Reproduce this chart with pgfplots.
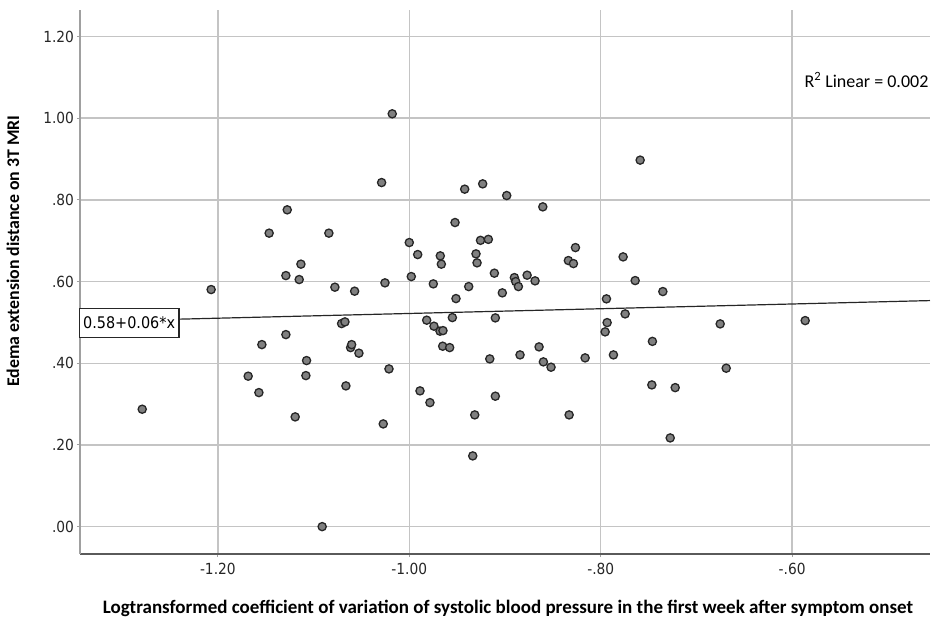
\documentclass[border=0pt]{standalone}
\usepackage{fontspec}
\setmainfont{DejaVu Sans}
\newfontfamily\tickfont[FakeStretch=0.9]{DejaVu Sans}
\newfontfamily\calfont{Carlito}
\usepackage{pgfplots}
\pgfplotsset{compat=1.18}
\definecolor{gridc}{RGB}{196,196,196}
\definecolor{ptfill}{RGB}{128,128,128}
\definecolor{yaxc}{RGB}{160,160,160}
\definecolor{xaxc}{RGB}{90,90,90}
\begin{document}
\begin{tikzpicture}
\useasboundingbox (0,0) rectangle (935pt,622pt);
\begin{axis}[
  at={(80pt,68pt)}, anchor=south west,
  width=850pt, height=544pt, scale only axis,
  xmin=-1.344, xmax=-0.456, ymin=-0.067, ymax=1.265,
  axis lines*=left,
  x axis line style={draw=xaxc, line width=1.5pt},
  y axis line style={draw=yaxc, line width=1.5pt},
  xtick={-1.2,-1.0,-0.8,-0.6},
  xticklabels={-1.20,-1.00,-.80,-.60},
  ytick={0,0.2,0.4,0.6,0.8,1.0,1.2},
  yticklabels={.00,.20,.40,.60,.80,1.00,1.20},
  tick align=outside, major tick length=3pt,
  tick style={draw=yaxc, line width=1pt},
  grid=major,
  major grid style={draw=gridc, line width=1.5pt},
  ticklabel style={font=\tickfont\fontsize{15.3}{17}\selectfont, text=black!85},
  xticklabel style={yshift=-2.5pt},
  yticklabel style={xshift=0.5pt},
  clip=false,
]
\addplot[only marks, mark=*, mark size=4.1pt,
  mark options={fill=ptfill, draw=black!85, line width=1.3pt}] coordinates {
(-1.279,0.2875) (-1.207,0.5805) (-1.1683,0.3684) (-1.1571,0.3282) (-1.154,0.4457)
(-1.1464,0.7186) (-1.1275,0.7757) (-1.1289,0.6147) (-1.1289,0.4702) (-1.1192,0.2687)
(-1.115,0.605) (-1.1132,0.6427) (-1.1073,0.4066) (-1.108,0.3698) (-1.091,0.000)
(-1.084,0.7186) (-1.0777,0.5863) (-1.0707,0.4972) (-1.0672,0.5013) (-1.0662,0.3446)
(-1.0613,0.4384) (-1.0602,0.4457) (-1.0571,0.5765) (-1.0526,0.4247) (-1.0289,0.8425)
(-1.0272,0.2515) (-1.0254,0.5969) (-1.0212,0.3862) (-1.0178,1.0108) (-1.000,0.6956)
(-0.9979,0.6123) (-0.9912,0.6662) (-0.9888,0.3324) (-0.9818,0.5055) (-0.9784,0.3037)
(-0.9749,0.5944) (-0.9742,0.4908) (-0.9679,0.4786) (-0.9648,0.4800) (-0.9676,0.6630)
(-0.9665,0.6427) (-0.9651,0.4418) (-0.9578,0.4384) (-0.9550,0.5119) (-0.9522,0.7446)
(-0.9512,0.5584) (-0.9421,0.8263) (-0.9379,0.5878) (-0.9337,0.1732) (-0.9316,0.2736)
(-0.9303,0.6679) (-0.9292,0.6459) (-0.9256,0.7010) (-0.9233,0.8393) (-0.9174,0.7034)
(-0.9159,0.4107) (-0.9111,0.6206) (-0.9101,0.5111) (-0.9101,0.3194) (-0.9028,0.5724)
(-0.8982,0.8107) (-0.8902,0.6098) (-0.8888,0.6000) (-0.8860,0.5878) (-0.8843,0.4205)
(-0.8769,0.6157) (-0.8686,0.6018) (-0.8644,0.4401) (-0.8605,0.7830) (-0.8599,0.4034)
(-0.8519,0.3904) (-0.8338,0.6515) (-0.8285,0.6441) (-0.8264,0.6833) (-0.8330,0.2736)
(-0.8163,0.4132) (-0.7954,0.4769) (-0.7940,0.5577) (-0.7933,0.4996) (-0.7867,0.4205)
(-0.7766,0.6605) (-0.7745,0.5209) (-0.7640,0.6025) (-0.7588,0.8974) (-0.7466,0.3470)
(-0.7460,0.4536) (-0.7351,0.5756) (-0.7274,0.2172) (-0.7222,0.3404) (-0.6752,0.4964)
(-0.6689,0.3879) (-0.5864,0.5045)
};
\addplot[draw=black!85, line width=1.2pt] coordinates {(-1.344,0.502) (-0.456,0.5535)};
\node[draw=black!85, line width=1.2pt, fill=white, inner xsep=4pt, minimum height=29pt,
  font=\tickfont\fontsize{16}{18}\selectfont] at (axis cs:-1.2927,0.4989) {0.58+0.06*x};
\end{axis}
\node[anchor=west, font=\calfont\fontsize{18}{20}\selectfont] at (801pt,542pt) {R\textsuperscript{2} Linear = 0.002};
\node[font=\calfont\bfseries\fontsize{19}{22}\selectfont] at (508pt,14pt)
  {Logtransformed coefficient of variation of systolic blood pressure in the first week after symptom onset};
\node[rotate=90, font=\calfont\bfseries\fontsize{17.8}{20}\selectfont] at (13pt,371pt)
  {Edema extension distance on 3T MRI};
\end{tikzpicture}
\end{document}
